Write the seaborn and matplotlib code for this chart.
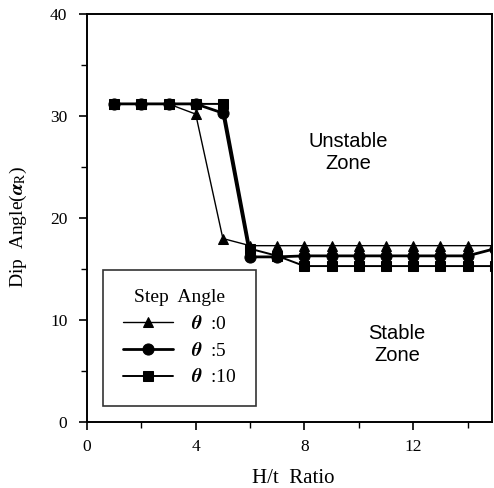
import pandas as pd
import numpy as np
import matplotlib
matplotlib.use("Agg")
import matplotlib.pyplot as plt
import seaborn as sns
from matplotlib.ticker import MultipleLocator

# H/t ratio values
ht_ratio = [1, 2, 3, 4, 5, 6, 7, 8, 9, 10, 11, 12, 13, 14, 15]

# dip angle for each step angle
dip_theta0 = [31.2, 31.2, 31.2, 30.2, 18.0, 17.3, 17.3, 17.3, 17.3, 17.3, 17.3, 17.3, 17.3, 17.3, 17.3]
dip_theta5 = [31.2, 31.2, 31.2, 31.2, 30.3, 16.2, 16.2, 16.3, 16.3, 16.3, 16.3, 16.3, 16.3, 16.3, 17.0]
dip_theta10 = [31.2, 31.2, 31.2, 31.2, 31.2, 17.0, 16.3, 15.3, 15.3, 15.3, 15.3, 15.3, 15.3, 15.3, 15.3]

series_labels = [r'$\boldsymbol{\theta}$  :0', r'$\boldsymbol{\theta}$  :5', r'$\boldsymbol{\theta}$  :10']

sns.set_style("ticks")
plt.rcParams['font.family'] = ['Liberation Serif', 'DejaVu Serif']
plt.rcParams['mathtext.fontset'] = 'stix'
plt.rcParams['text.color'] = 'black'
plt.rcParams['axes.labelcolor'] = 'black'

fig = plt.figure(figsize=(4.94, 4.88), dpi=100)
ax = fig.add_axes([0.176, 0.135, 0.82, 0.836])

series = [(dip_theta0, '^', 1.0, 7), (dip_theta5, 'o', 2.0, 8), (dip_theta10, 's', 1.4, 7.5)]
for (vals, mk, lw, ms), lab in zip(series, series_labels):
    df = pd.DataFrame({'ht': ht_ratio, 'dip': vals})
    sns.lineplot(data=df, x='ht', y='dip', ax=ax, color='black', marker=mk,
                 markersize=ms, linewidth=lw, markeredgecolor='black', label=lab)

ax.set_xlim(0, 14.9)
ax.set_ylim(0, 40)
ax.xaxis.set_major_locator(MultipleLocator(4))
ax.xaxis.set_minor_locator(MultipleLocator(2))
ax.yaxis.set_major_locator(MultipleLocator(10))
ax.yaxis.set_minor_locator(MultipleLocator(5))
ax.tick_params(which='major', direction='out', length=6, width=1.2, labelsize=12.5, colors='black')
ax.tick_params(axis='y', which='major', pad=8)
ax.tick_params(axis='x', which='major', pad=6)
ax.tick_params(which='minor', direction='out', length=4, width=1.0, colors='black')
for s in ax.spines.values():
    s.set_linewidth(1.4)
    s.set_color('black')

ax.set_xlabel('H/t  Ratio', fontsize=15)
ax.set_ylabel(r'Dip  Angle($\boldsymbol{\alpha}_{\mathrm{R}}$)', fontsize=14)
ax.xaxis.set_label_coords(0.51, -0.115)
ax.yaxis.set_label_coords(-0.143, 0.48)

ax.text(9.6, 26.4, 'Unstable\nZone', fontsize=14.5, ha='center', va='center',
        family=['Liberation Sans', 'DejaVu Sans'], linespacing=1.2, color='black')
ax.text(11.4, 7.6, 'Stable\nZone', fontsize=14.5, ha='center', va='center',
        family=['Liberation Sans', 'DejaVu Sans'], linespacing=1.2, color='black')

leg = ax.legend(title='Step  Angle', loc='lower left', bbox_to_anchor=(0.04, 0.04),
                borderaxespad=0, fontsize=14, title_fontsize=14, frameon=True,
                fancybox=False, edgecolor='black', handlelength=2.6, borderpad=1.0,
                labelspacing=0.45, handletextpad=0.9)
leg.get_frame().set_linewidth(1.2)

plt.savefig('out.png', dpi=100)
